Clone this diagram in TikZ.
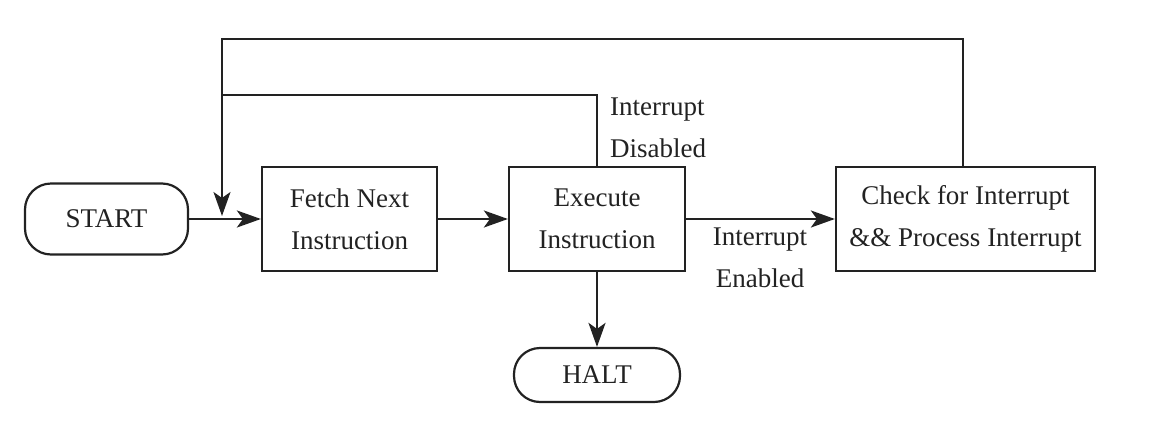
\documentclass[tikz,border=0pt]{standalone}
\usepackage{fontspec}
\setmainfont{Liberation Serif}
\usetikzlibrary{arrows.meta}
\definecolor{ink}{HTML}{222222}
\begin{document}
\begin{tikzpicture}[x=1pt,y=1pt,
  every node/.style={text=ink, font=\fontsize{27}{42}\selectfont},
  box/.style={draw=ink, line width=2.2pt, align=center, inner sep=0pt},
  term/.style={box, rounded corners=26pt},
  lbl/.style={align=center, inner sep=0pt},
  line/.style={draw=ink, line width=2.2pt},
  arr/.style={line, -{Stealth[length=24pt,width=17pt,inset=6pt]}}]
\useasboundingbox (0,0) rectangle (1152,-429);
\node[term, minimum width=163pt, minimum height=71pt] (start) at (106.5,-219) {START};
\node[box, minimum width=175pt, minimum height=104pt] (fetch) at (349.5,-219) {Fetch Next\\Instruction};
\node[box, minimum width=176pt, minimum height=104pt] (exec) at (597,-219) {Execute\\Instruction};
\node[box, minimum width=259pt, minimum height=104pt] (check) at (965.5,-219) {Check for Interrupt\\\&\& Process Interrupt};
\node[term, minimum width=166pt, minimum height=54pt] (halt) at (597,-375) {HALT};
\node[lbl, align=left, anchor=west] (dis) at (610,-128) {Interrupt\\Disabled};
\node[lbl] (ena) at (760,-258) {Interrupt\\Enabled};
\coordinate (tl) at (222,-39);
\coordinate (join) at (222,-216);
\coordinate (j2) at (222,-95);
\draw[arr] (start.east) -- (fetch.west);
\draw[arr] (fetch.east) -- (exec.west);
\draw[arr] (exec.east) -- (check.north west |- exec.east);
\draw[arr] (exec.south) -- (halt.north);
\draw[arr] (check.north -| 963,0) |- (tl) -- (join);
\draw[line] (exec.north) |- (j2);
\end{tikzpicture}
\end{document}
